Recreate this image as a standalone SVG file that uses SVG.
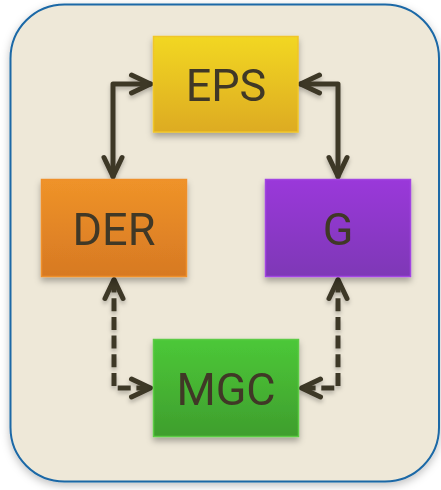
<svg xmlns="http://www.w3.org/2000/svg" width="441" height="490" viewBox="0 0 441 490">
<style>
.lbl{font-family:Roboto,"Liberation Sans",sans-serif;font-size:45px;fill:#3F3828;text-anchor:middle}
.conn{fill:none;stroke:#3E3828;stroke-width:5;stroke-linecap:round;stroke-linejoin:round}
.dash{stroke-dasharray:13 5.7;stroke-linecap:butt}
.box{stroke-width:1.5}
</style>
<defs>
<filter id="sh" x="-20%" y="-20%" width="140%" height="150%">
<feDropShadow dx="0" dy="4" stdDeviation="3" flood-color="#000" flood-opacity="0.3"/>
</filter>
<filter id="shOuter" x="-10%" y="-10%" width="120%" height="120%">
<feDropShadow dx="0" dy="3" stdDeviation="4" flood-color="#000" flood-opacity="0.25"/>
</filter>
<filter id="shc" x="-30%" y="-30%" width="160%" height="160%">
<feDropShadow dx="0" dy="3" stdDeviation="2" flood-color="#000" flood-opacity="0.25"/>
</filter>
<linearGradient id="gY" x1="0" y1="0" x2="0" y2="1"><stop offset="0" stop-color="#F2D724"/><stop offset="1" stop-color="#DDAB22"/></linearGradient>
<linearGradient id="gO" x1="0" y1="0" x2="0" y2="1"><stop offset="0" stop-color="#EF9329"/><stop offset="1" stop-color="#D77923"/></linearGradient>
<linearGradient id="gP" x1="0" y1="0" x2="0" y2="1"><stop offset="0" stop-color="#9A38DA"/><stop offset="1" stop-color="#7E37B6"/></linearGradient>
<linearGradient id="gG" x1="0" y1="0" x2="0" y2="1"><stop offset="0" stop-color="#4CC838"/><stop offset="1" stop-color="#3F9E2D"/></linearGradient>
<marker id="arr" markerUnits="userSpaceOnUse" markerWidth="30" markerHeight="30" viewBox="0 0 30 30" refX="21" refY="15" orient="auto-start-reverse" overflow="visible">
<path d="M2,6 L21,15 L2,24" fill="none" stroke="#3E3828" stroke-width="5" stroke-linecap="round" stroke-linejoin="round"/>
</marker>
</defs>
<rect x="10.5" y="4.5" width="428.5" height="477" rx="54" ry="54" fill="#EEE8D8" stroke="#1A68A6" stroke-width="2" filter="url(#shOuter)"/>
<g id="connectors" filter="url(#shc)">
<path class="conn" d="M150.5,84 H113 V176.5" marker-start="url(#arr)" marker-end="url(#arr)"/>
<path class="conn" d="M300.5,84 H338 V176.5" marker-start="url(#arr)" marker-end="url(#arr)"/>
<path class="conn dash" d="M114,279.5 V388 H150.5" marker-start="url(#arr)" marker-end="url(#arr)"/>
<path class="conn dash" d="M338,279.5 V388 H301.5" marker-start="url(#arr)" marker-end="url(#arr)"/>
</g>
<g id="EPS" filter="url(#sh)">
<rect class="box" x="153.5" y="36.5" width="144.5" height="95.5" fill="url(#gY)" stroke="#F0C52A"/>
<text class="lbl" x="226" y="100.5">EPS</text>
</g>
<g id="DER" filter="url(#sh)">
<rect class="box" x="41.5" y="179.5" width="145" height="97" fill="url(#gO)" stroke="#EF902C"/>
<text class="lbl" x="114" y="245">DER</text>
</g>
<g id="G" filter="url(#sh)">
<rect class="box" x="265.5" y="179.5" width="145" height="97" fill="url(#gP)" stroke="#A244E2"/>
<text class="lbl" x="338" y="245">G</text>
</g>
<g id="MGC" filter="url(#sh)">
<rect class="box" x="153.5" y="339.5" width="145" height="97" fill="url(#gG)" stroke="#5CCB45"/>
<text class="lbl" x="226" y="405">MGC</text>
</g>
</svg>
